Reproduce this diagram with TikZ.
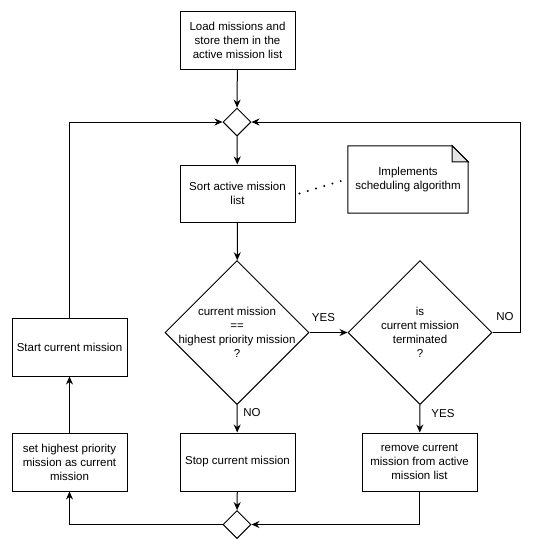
\documentclass[tikz,border=0pt]{standalone}
\usepackage{fontspec}
\setmainfont{Liberation Sans}
\usetikzlibrary{arrows.meta,shapes.geometric}
\begin{document}
\begin{tikzpicture}[x=1pt,y=-1pt,
  every node/.style={font=\fontsize{11.5}{14}\selectfont, align=center},
  box/.style={draw, line width=1pt, minimum width=115pt, minimum height=58pt, inner sep=2pt},
  dia/.style={draw, line width=1pt, shape=diamond, inner sep=0pt, minimum width=#1, minimum height=#1},
  flow/.style={line width=1pt, -{Stealth[length=8pt,width=7pt]}},
  lbl/.style={inner sep=0pt}]
\useasboundingbox (0,0) rectangle (535,550);
\node[box] (load) at (237.5,40) {Load missions and\\store them in the\\active mission list};
\node[dia=28pt] (m1) at (237,122) {};
\node[box, minimum height=57pt] (sort) at (237.5,193.5) {Sort active mission\\list};
\node[minimum width=120pt, minimum height=67pt, inner sep=0pt] (note) at (408,179.5) {Implements\\scheduling algorithm};
\draw[line width=1pt] (note.north west) -- ([xshift=-16pt]note.north east) -- ([yshift=-16pt]note.north east) -- (note.south east) -- (note.south west) -- cycle;
\draw[line width=1pt, fill=black!10] ([xshift=-16pt]note.north east) -- ([xshift=-16pt,yshift=-16pt]note.north east) -- ([yshift=-16pt]note.north east) -- cycle;
\node[dia=144pt] (d1) at (237,332.5) {};
\node[lbl] (d1t) at (d1.center) {current mission\\==\\highest priority mission\\?};
\node[dia=144pt] (d2) at (420,332.5) {};
\node[lbl] (d2t) at (d2.center) {is\\current mission\\terminated\\?};
\node[box] (start) at (69.5,347) {Start current mission};
\node[box] (setp) at (69.5,462) {set highest priority\\mission as current\\mission};
\node[box] (stop) at (237.5,462) {Stop current mission};
\node[box] (remove) at (419.5,462) {remove current\\mission from active\\mission list};
\node[dia=28pt] (m2) at (237,524.5) {};
\node[lbl] (yes1) at (323.5,318) {YES};
\node[lbl] (no1) at (505,317) {NO};
\node[lbl] (no2) at (252,413) {NO};
\node[lbl] (yes2) at (443,414) {YES};
\draw[flow] (load) -- (m1);
\draw[flow] (m1) -- (sort);
\draw[flow] (sort) -- (d1);
\draw[flow] (d1.east) -- (d2.west);
\draw[flow] (d1.south) -- (stop);
\draw[flow] (d2.south) -- (remove);
\draw[flow] (d2.east) -- ++(28,0) |- (m1.east);
\draw[flow] (stop) -- (m2);
\draw[flow] (remove.south) |- (m2.east);
\draw[flow] (m2.west) -| (setp.south);
\draw[flow] (setp) -- (start);
\draw[flow] (start.north) |- (m1.west);
\draw[line width=2.2pt, line cap=round, dash pattern=on 0pt off 8.6pt] ([xshift=4pt]sort.east) -- ([xshift=-2pt]note.west);
\end{tikzpicture}
\end{document}
